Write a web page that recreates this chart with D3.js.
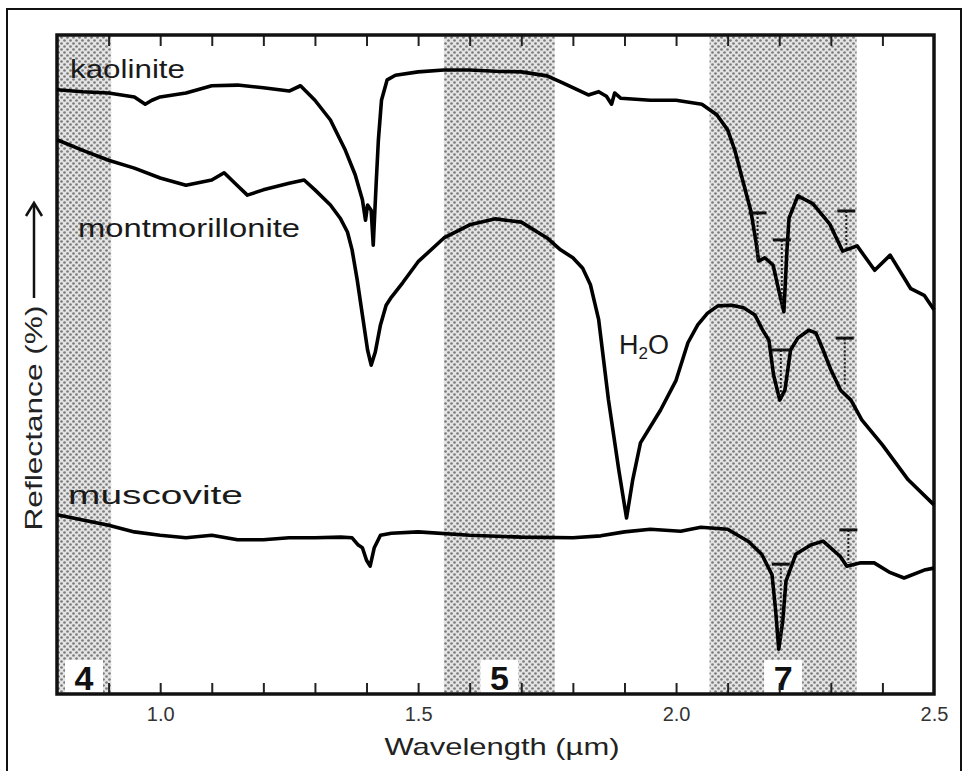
<!DOCTYPE html>
<html>
<head>
<meta charset="utf-8">
<script src="https://cdn.jsdelivr.net/npm/d3@7"></script>
<style>
body{margin:0;background:#fff;}
svg{display:block;font-family:'Liberation Sans',Arial,sans-serif;}
</style>
</head>
<body>
<svg id="chart" width="967" height="771"></svg>
<script>
var width = 967,
	height = 771;

// spectra: wavelength (um) and relative reflectance (0-100 of the plot height)
var kaoliniteWl = [0.80,0.85,0.90,0.95,0.971,0.984,1.00,1.05,1.10,1.15,1.20,1.25,1.272,1.30,1.33,1.359,1.378,1.392,1.398,1.402,1.409,1.413,1.419,1.423,1.429,1.44,1.456,1.50,1.55,1.60,1.65,1.70,1.75,1.776,1.80,1.83,1.85,1.865,1.875,1.881,1.893,1.95,2.00,2.05,2.079,2.10,2.114,2.129,2.145,2.156,2.16,2.172,2.188,2.199,2.209,2.215,2.219,2.236,2.265,2.298,2.323,2.351,2.385,2.415,2.455,2.481,2.50];
var kaoliniteR = [91.7,91.4,91.2,90.6,89.5,90.1,90.6,91.2,92.3,92.4,92.0,91.5,92.3,90.1,87.1,82.5,78.8,75.0,71.9,74.2,73.4,68.1,78.0,84.1,90.1,93.2,93.9,94.4,94.7,94.7,94.5,94.4,93.8,92.9,92.0,90.9,91.4,90.7,89.5,91.2,90.4,90.1,90.1,89.5,87.9,85.6,82.5,78.0,73.3,68.1,65.7,66.2,65.1,61.3,58.0,67.4,72.2,75.6,74.4,71.3,67.2,68.0,64.3,66.6,61.5,60.5,58.3];

var montWl = [0.80,0.85,0.90,0.95,1.00,1.05,1.10,1.124,1.149,1.169,1.20,1.25,1.279,1.30,1.33,1.349,1.363,1.372,1.382,1.392,1.402,1.409,1.417,1.427,1.438,1.448,1.47,1.50,1.55,1.60,1.65,1.70,1.75,1.776,1.80,1.819,1.834,1.85,1.869,1.889,1.904,1.916,1.931,1.97,2.00,2.023,2.042,2.061,2.081,2.108,2.131,2.153,2.168,2.18,2.189,2.201,2.211,2.222,2.236,2.257,2.271,2.285,2.30,2.319,2.339,2.36,2.40,2.45,2.50];
var montR = [84.1,82.5,81.0,79.8,78.3,77.2,78.0,79.1,77.2,75.7,76.5,77.5,78.0,76.5,74.2,72.2,70.1,67.4,62.8,57.5,52.2,49.9,51.9,56.0,59.0,60.2,62.4,65.6,69.2,71.2,72.1,71.6,69.2,67.4,66.2,64.6,62.1,56.8,44.6,34.0,26.7,32.5,38.1,43.1,47.6,53.3,56.0,57.8,58.9,59.0,58.6,57.5,55.2,53.7,48.4,44.6,46.1,52.2,54.0,55.2,54.8,52.2,49.2,46.1,44.6,41.6,37.8,32.5,28.7];

var muscWl = [0.80,0.85,0.90,0.95,1.00,1.05,1.10,1.15,1.20,1.25,1.30,1.35,1.372,1.384,1.392,1.40,1.407,1.415,1.427,1.448,1.50,1.60,1.70,1.80,1.854,1.90,1.95,2.009,2.048,2.10,2.141,2.166,2.186,2.193,2.199,2.207,2.213,2.232,2.261,2.285,2.318,2.331,2.358,2.384,2.413,2.442,2.481,2.50];
var muscR = [27.2,26.4,25.6,24.6,24.1,23.7,24.1,23.4,23.4,23.7,23.7,23.8,23.7,22.6,22.2,20.3,19.4,22.2,24.1,24.4,24.6,24.1,23.8,23.7,24.0,24.6,25.0,24.7,25.3,25.0,23.1,21.2,18.1,12.7,6.8,11.2,17.1,21.2,22.6,23.2,20.9,19.4,19.9,19.9,18.5,17.6,18.8,19.1];

// band depth markers (wavelength, top, bottom)
var markWl = [2.158,2.205,2.330,2.203,2.327,2.203,2.334];
var markTop = [73.0,68.9,73.3,52.2,54.0,19.7,24.9];
var markBottom = [65.7,59.0,67.7,44.9,46.9,8.2,19.9];

// Landsat TM bands
var bandNames = ['4','5','7'];
var bandStart = [0.76,1.55,2.065];
var bandEnd = [0.905,1.765,2.35];

var majorTicks = [1.0,1.5,2.0,2.5];
var minorTicks = [0.9,1.0,1.1,1.2,1.3,1.4,1.5,1.6,1.7,1.8,1.9,2.0,2.1,2.2,2.3,2.4];

var plotL = 57, plotR = 934, plotT = 35, plotB = 694;

var xScale = d3.scaleLinear().domain([0.8,2.5]).range([plotL,plotR]).clamp(true);
var yScale = d3.scaleLinear().domain([0,100]).range([plotB,plotT]);

var svg = d3.select('#chart');

// stipple pattern
var pat = svg.append('defs').append('pattern')
	.attr('id','dots')
	.attr('width',6).attr('height',6)
	.attr('patternUnits','userSpaceOnUse');
pat.append('rect').attr('width',6).attr('height',6).attr('fill','#e4e4e4');
pat.append('circle').attr('cx',1.5).attr('cy',1.5).attr('r',1.35).attr('fill','#7c7c7c');
pat.append('circle').attr('cx',4.5).attr('cy',4.5).attr('r',1.35).attr('fill','#7c7c7c');

// outer frame
svg.append('path')
	.attr('d','M7,771 L7,9 L961,9 L961,771')
	.attr('fill','none')
	.attr('stroke','#111')
	.attr('stroke-width',2);

// bands
svg.selectAll('.band')
	.data(bandNames)
	.enter()
	.append('rect')
	.attr('class','band')
	.attr('x',(d,i)=>xScale(bandStart[i]))
	.attr('width',(d,i)=>xScale(bandEnd[i])-xScale(bandStart[i]))
	.attr('y',plotT)
	.attr('height',plotB-plotT)
	.attr('fill','url(#dots)');

// band numbers with white box
var bandLabels = svg.selectAll('.bandLabel')
	.data(bandNames)
	.enter()
	.append('g')
	.attr('class','bandLabel');

var labelX = (d,i)=>(i==0 ? xScale(0.8)+27 : xScale((bandStart[i]+bandEnd[i])/2));

bandLabels.append('rect')
	.attr('x',(d,i)=>labelX(d,i)-19)
	.attr('width',38)
	.attr('y',660)
	.attr('height',plotB-660)
	.attr('fill','#fff');

bandLabels.append('text')
	.text(d=>d)
	.attr('x',labelX)
	.attr('y',690)
	.attr('text-anchor','middle')
	.attr('font-size',34)
	.attr('font-weight','bold')
	.attr('fill','#111');

// ticks (inward), top and bottom
svg.append('g')
	.attr('transform','translate(0,'+plotB+')')
	.call(d3.axisBottom(xScale).tickValues(minorTicks).tickSize(-11).tickFormat(''))
	.call(g=>g.select('.domain').remove())
	.selectAll('line').attr('stroke','#222').attr('stroke-width',2);

svg.append('g')
	.attr('transform','translate(0,'+plotT+')')
	.call(d3.axisTop(xScale).tickValues(minorTicks).tickSize(-11).tickFormat(''))
	.call(g=>g.select('.domain').remove())
	.selectAll('line').attr('stroke','#222').attr('stroke-width',2);

// tick labels
var xAxis = svg.append('g')
	.attr('transform','translate(0,'+plotB+')')
	.call(d3.axisBottom(xScale).tickValues(majorTicks).tickSize(0).tickPadding(13).tickFormat(d3.format('.1f')));
xAxis.select('.domain').remove();
xAxis.attr('font-size',20).attr('font-family',null);
xAxis.selectAll('text')
	.attr('fill','#333');

// plot frame
svg.append('rect')
	.attr('x',plotL).attr('y',plotT)
	.attr('width',plotR-plotL).attr('height',plotB-plotT)
	.attr('fill','none')
	.attr('stroke','#111')
	.attr('stroke-width',3.5);

// spectra
var line = d3.line()
	.x(d=>xScale(d[0]))
	.y(d=>yScale(d[1]));

var spectra = [
	d3.zip(kaoliniteWl,kaoliniteR),
	d3.zip(montWl,montR),
	d3.zip(muscWl,muscR)
];

svg.selectAll('.spectrum')
	.data(spectra)
	.enter()
	.append('path')
	.attr('class','spectrum')
	.attr('d',line)
	.attr('fill','none')
	.attr('stroke','#000')
	.attr('stroke-width',3.6)
	.attr('stroke-linejoin','round');

// band depth markers
var marks = svg.selectAll('.mark')
	.data(markWl)
	.enter()
	.append('g')
	.attr('class','mark');

marks.append('line')
	.attr('x1',d=>xScale(d)).attr('x2',d=>xScale(d))
	.attr('y1',(d,i)=>yScale(markTop[i]))
	.attr('y2',(d,i)=>yScale(markBottom[i]))
	.attr('stroke','#222')
	.attr('stroke-width',2)
	.attr('stroke-dasharray','2,2');

marks.append('line')
	.attr('x1',d=>xScale(d)-9).attr('x2',d=>xScale(d)+9)
	.attr('y1',(d,i)=>yScale(markTop[i]))
	.attr('y2',(d,i)=>yScale(markTop[i]))
	.attr('stroke','#111')
	.attr('stroke-width',3);

// curve labels
function label(txt,x,y,w){
	svg.append('text')
		.text(txt)
		.attr('x',x).attr('y',y)
		.attr('font-size',26)
		.attr('textLength',w)
		.attr('lengthAdjust','spacingAndGlyphs')
		.attr('fill','#1a1a1a');
}
label('kaolinite',70,78,115);
label('montmorillonite',78,237,222);
label('muscovite',68,504,175);

// H2O
svg.append('text')
	.attr('x',619).attr('y',354)
	.attr('font-size',27)
	.attr('fill','#1a1a1a')
	.call(t=>{
		t.append('tspan').text('H');
		t.append('tspan').text('2').attr('font-size',17).attr('dy',5);
		t.append('tspan').text('O').attr('dy',-5);
	});

// axis titles
svg.append('text')
	.text('Wavelength (\u00b5m)')
	.attr('x',502).attr('y',755)
	.attr('text-anchor','middle')
	.attr('font-size',24)
	.attr('textLength',235)
	.attr('lengthAdjust','spacingAndGlyphs')
	.attr('fill','#222');

svg.append('text')
	.text('Reflectance (%)')
	.attr('transform','translate(42,418) rotate(-90)')
	.attr('text-anchor','middle')
	.attr('font-size',24)
	.attr('textLength',225)
	.attr('lengthAdjust','spacingAndGlyphs')
	.attr('fill','#222');

svg.append('line')
	.attr('x1',34).attr('x2',34)
	.attr('y1',298).attr('y2',204)
	.attr('stroke','#111').attr('stroke-width',2.5);
svg.append('path')
	.attr('d','M26,216 L34,203 L42,216')
	.attr('fill','none')
	.attr('stroke','#111')
	.attr('stroke-width',2.5);
</script>
</body>
</html>
